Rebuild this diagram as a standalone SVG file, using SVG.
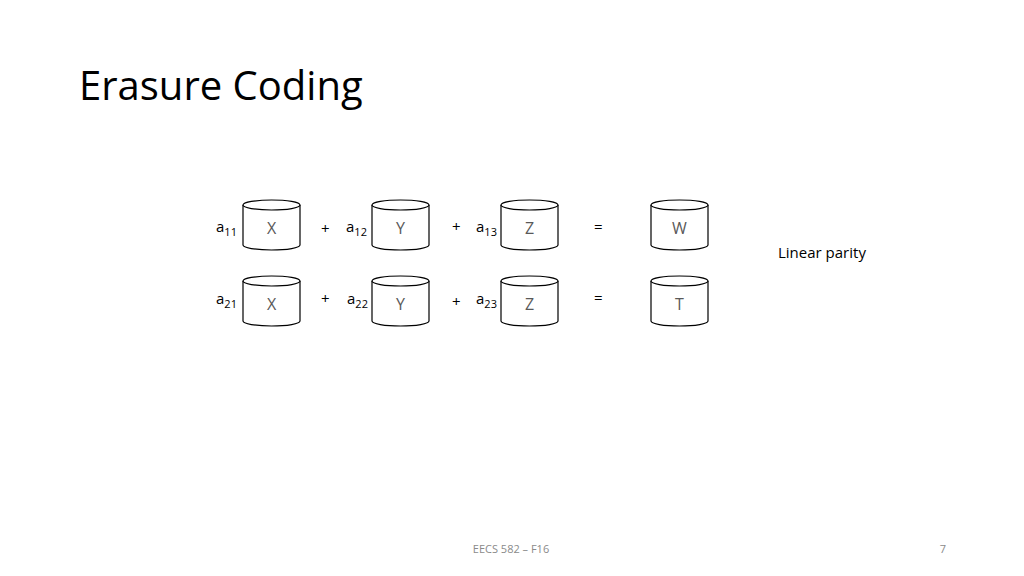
<svg xmlns="http://www.w3.org/2000/svg" width="1024" height="576" viewBox="0 0 1024 576">
<style>
.cyl{fill:#fff;stroke:#000;stroke-width:1.2}
.lbl{font-family:"Open Sans","Liberation Sans",sans-serif;font-size:16px;fill:#595959;text-anchor:middle}
.t{font-family:"Open Sans","Liberation Sans",sans-serif;font-size:15px;fill:#000}
.s{font-size:11px}
</style>
<rect width="1024" height="576" fill="#fff"/>
<text x="79" y="100" font-family="Open Sans,Liberation Sans,sans-serif" font-size="40" fill="#000">Erasure Coding</text>
<defs>
<g id="c">
<path class="cyl" d="M0,5 L0,45 A28.5,5 0 0 0 57,45 L57,5"/>
<ellipse class="cyl" cx="28.5" cy="5" rx="28.5" ry="5"/>
</g>
</defs>
<g id="n1"><use href="#c" x="243" y="200"/><text class="lbl" x="271.5" y="234">X</text></g>
<g id="n2"><use href="#c" x="372" y="200"/><text class="lbl" x="400.5" y="234">Y</text></g>
<g id="n3"><use href="#c" x="501" y="200"/><text class="lbl" x="529.5" y="234">Z</text></g>
<g id="n4"><use href="#c" x="651" y="200"/><text class="lbl" x="679.5" y="234">W</text></g>
<g id="n5"><use href="#c" x="243" y="276"/><text class="lbl" x="271.5" y="310">X</text></g>
<g id="n6"><use href="#c" x="372" y="276"/><text class="lbl" x="400.5" y="310">Y</text></g>
<g id="n7"><use href="#c" x="501" y="276"/><text class="lbl" x="529.5" y="310">Z</text></g>
<g id="n8"><use href="#c" x="651" y="276"/><text class="lbl" x="679.5" y="310">T</text></g>
<g id="connectors"></g>
<g class="t">
<text x="216" y="232">a<tspan class="s" dy="4">11</tspan></text>
<text x="321" y="234">+</text>
<text x="346" y="232">a<tspan class="s" dy="4">12</tspan></text>
<text x="452" y="232">+</text>
<text x="476" y="232">a<tspan class="s" dy="4">13</tspan></text>
<text x="594" y="232">=</text>
<text x="216" y="304">a<tspan class="s" dy="4">21</tspan></text>
<text x="321" y="304">+</text>
<text x="347" y="304">a<tspan class="s" dy="4">22</tspan></text>
<text x="452" y="307">+</text>
<text x="476" y="304">a<tspan class="s" dy="4">23</tspan></text>
<text x="594" y="303">=</text>
<text x="778" y="258">Linear parity</text>
</g>
<text x="511" y="553" font-family="Open Sans,Liberation Sans,sans-serif" font-size="11" fill="#8a8a8a" text-anchor="middle">EECS 582 – F16</text>
<text x="943" y="553" font-family="Open Sans,Liberation Sans,sans-serif" font-size="11" fill="#8a8a8a" text-anchor="middle">7</text>
</svg>
